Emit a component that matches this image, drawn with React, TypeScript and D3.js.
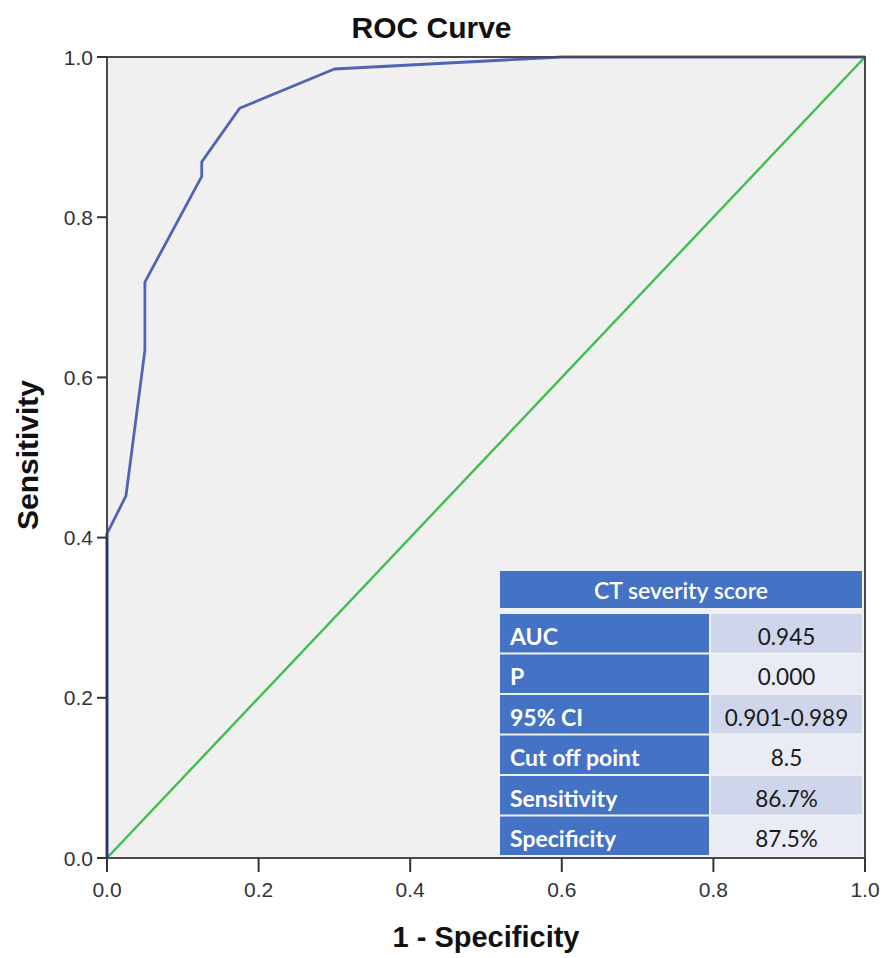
import React from "react";
import * as d3 from "d3";

const rocFpr = [0, 0, 0.025, 0.05, 0.05, 0.125, 0.125, 0.175, 0.3, 0.6, 1.0];
const rocTpr = [0, 0.405, 0.452, 0.634, 0.719, 0.851, 0.869, 0.936, 0.985, 1.0, 1.0];
const refLine = [0, 1];
const ticks = [0, 0.2, 0.4, 0.6, 0.8, 1.0];
const tableTitle = "CT severity score";
const tableLabels = ["AUC", "P", "95% CI", "Cut off point", "Sensitivity", "Specificity"];
const tableValues = ["0.945", "0.000", "0.901-0.989", "8.5", "86.7%", "87.5%"];

const W = 886, H = 958;
const L = 107, R = 865, T = 57, B = 858;

export default function App() {
  const x = d3.scaleLinear().domain([0, 1]).range([L, R]);
  const y = d3.scaleLinear().domain([0, 1]).range([B, T]);
  const line = d3.line<number>().x((_, i) => x(rocFpr[i])).y((d) => y(d));
  const refPath = d3.line<number>().x((d) => x(d)).y((d) => y(d))(refLine) || "";

  // table geometry
  const tL = 500, tR = 862, tMid = 709;
  const headTop = 571, headBot = 608;
  const rowTop = 614, rowH = 40.5, gap = 2;
  const valueFills = ["#CFD5EA", "#E9EBF5"];
  const tableFont = "Lato, 'Open Sans', sans-serif";

  return (
    <svg width={W} height={H} style={{ position: "absolute", left: 0, top: 0, background: "#fff" }}>
      <rect x={L} y={T} width={R - L} height={B - T} fill="#F0F0F0" />
      <path d={refPath} fill="none" stroke="#40BF4C" strokeWidth={2.4} />
      <path d={line(rocTpr) || ""} fill="none" stroke="#5064B4" strokeWidth={2.8} strokeLinejoin="round" />
      <rect x={L} y={T} width={R - L} height={B - T} fill="none" stroke="#4a4a4a" strokeWidth={2} />
      {/* curve overlaps on axis */}
      <path d={`M${x(0)},${y(0)}L${x(0)},${y(0.405)}`} stroke="#2a3466" strokeWidth={2.4} />

      {/* table */}
      <rect x={tL} y={headTop} width={tR - tL} height={headBot - headTop} fill="#4472C4" />
      <text x={(tL + tR) / 2} y={headBot - 9} textAnchor="middle" fill="#fff" fontFamily={tableFont} fontSize={23} fontWeight={600}>
        {tableTitle}
      </text>
      {tableLabels.map((lab, i) => {
        const yt = rowTop + i * rowH;
        const h = rowH - gap;
        return (
          <g key={lab}>
            <rect x={tL} y={yt} width={tMid - tL} height={h} fill="#4472C4" />
            <rect x={tMid + gap} y={yt} width={tR - tMid - gap} height={h} fill={valueFills[i % 2]} />
            <text x={tL + 10} y={yt + h - 8} fill="#fff" fontFamily={tableFont} fontSize={23} fontWeight={700}>
              {lab}
            </text>
            <text x={(tMid + gap + tR) / 2} y={yt + h - 8} textAnchor="middle" fill="#1a1a1a" fontFamily={tableFont} fontSize={22.5}>
              {tableValues[i]}
            </text>
          </g>
        );
      })}

      {/* ticks */}
      {ticks.map((t) => (
        <g key={"x" + t}>
          <line x1={x(t)} x2={x(t)} y1={B} y2={B + 14} stroke="#333" strokeWidth={2} />
          <text x={x(t)} y={897} textAnchor="middle" fontFamily="'Liberation Sans', Arial, sans-serif" fontSize={21} fill="#333">
            {t.toFixed(1)}
          </text>
        </g>
      ))}
      {ticks.map((t) => (
        <g key={"y" + t}>
          <line x1={L - 10} x2={L} y1={y(t)} y2={y(t)} stroke="#333" strokeWidth={2} />
          <text x={93} y={y(t) + 7.5} textAnchor="end" fontFamily="'Liberation Sans', Arial, sans-serif" fontSize={21} fill="#333">
            {t.toFixed(1)}
          </text>
        </g>
      ))}

      <text x={431.5} y={38} textAnchor="middle" fontFamily="'Liberation Sans', Arial, sans-serif" fontSize={30} fontWeight="bold" fill="#111">
        ROC Curve
      </text>
      <text x={486} y={947} textAnchor="middle" fontFamily="'Liberation Sans', Arial, sans-serif" fontSize={29} fontWeight="bold" fill="#111">
        1 - Specificity
      </text>
      <text transform={`translate(38,455) rotate(-90)`} textAnchor="middle" fontFamily="'Liberation Sans', Arial, sans-serif" fontSize={30} fontWeight="bold" fill="#111">
        Sensitivity
      </text>
    </svg>
  );
}
